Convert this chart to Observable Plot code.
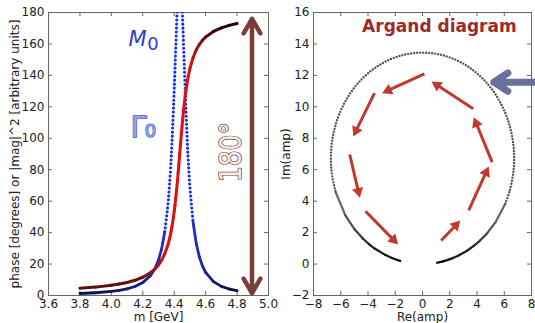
<!DOCTYPE html>
<html><head><meta charset="utf-8">
<script src="https://cdn.jsdelivr.net/npm/d3@7"></script>
<script src="https://cdn.jsdelivr.net/npm/@observablehq/plot@0.6"></script>
<style>
html,body{margin:0;padding:0;background:#fff;}
#wrap{position:relative;width:535px;height:323px;overflow:hidden;display:flex;}
#wrap svg{flex:none;}
</style></head><body><div id="wrap"></div>
<script>
// ---- data ----
const mass = [3.8,3.9,4.0,4.05,4.1,4.15,4.2,4.25,4.28,4.3,4.32,4.34,4.36,4.37,4.38,4.385,4.39,4.395,4.40,4.405,4.41,4.415,4.42,4.425,4.43,4.435,4.44,4.445,4.45,4.455,4.46,4.465,4.47,4.475,4.48,4.485,4.49,4.50,4.52,4.54,4.56,4.58,4.60,4.65,4.70,4.75,4.80];
const phase = [4.55,5.33,6.48,7.26,8.29,9.66,11.60,14.53,17.13,19.45,22.47,26.55,32.27,36.05,40.67,43.37,46.37,49.71,53.43,57.53,62.05,67.00,72.34,78.02,83.95,90.03,96.11,102.07,107.78,113.15,118.13,122.69,126.83,130.58,133.95,136.98,139.70,144.37,151.33,156.16,159.68,162.33,164.40,167.97,170.24,171.81,172.96];
const magSq = [1.28,1.76,2.58,3.25,4.22,5.72,8.20,12.78,17.63,22.52,29.68,40.56,57.88,70.30,86.23,95.74,106.4,118.1,130.9,144.5,158.4,172.0,184.3,194.2,200.8,203.0,200.7,194.1,184.1,171.6,157.8,143.8,130.0,117.1,105.2,94.5,84.9,68.9,46.74,33.15,24.48,18.70,14.69,8.82,5.83,4.12,3.05];
const ampRe = [1.064,1.244,1.508,1.686,1.919,2.225,2.649,3.267,3.786,4.223,4.751,5.378,6.072,6.400,6.648,6.714,6.718,6.634,6.436,6.092,5.569,4.838,3.888,2.731,1.410,-0.007,-1.424,-2.750,-3.911,-4.862,-5.592,-6.114,-6.453,-6.645,-6.720,-6.709,-6.635,-6.369,-5.661,-4.972,-4.381,-3.889,-3.484,-2.742,-2.247,-1.896,-1.636];
const ampIm = [0.085,0.116,0.171,0.215,0.280,0.379,0.544,0.847,1.167,1.492,1.965,2.687,3.834,4.658,5.712,6.343,7.046,7.826,8.675,9.574,10.496,11.397,12.212,12.870,13.300,13.450,13.298,12.862,12.196,11.371,10.461,9.526,8.617,7.759,6.971,6.261,5.627,4.564,3.096,2.196,1.623,1.239,0.973,0.584,0.387,0.273,0.202];

const leftXTicks = [3.6,3.8,4.0,4.2,4.4,4.6,4.8,5.0];
const leftYTicks = [0,20,40,60,80,100,120,140,160,180];
const rightXTicks = [-8,-6,-4,-2,0,2,4,6,8];
const rightYTicks = [-2,0,2,4,6,8,10,12,14,16];

// Argand flow arrows (Re/Im of start and tip)
const arrowX1 = [0.14,-3.52,-5.34,-4.18,1.37,3.39,5.11,3.72];
const arrowY1 = [12.10,10.87,6.97,3.36,1.50,3.41,6.48,9.88];
const arrowX2 = [-2.96,-5.09,-4.60,-1.79,2.78,4.86,3.76,0.66];
const arrowY2 = [10.87,8.11,4.21,1.24,2.77,6.21,9.34,11.61];

// annotations
const spanArrowM = 4.895, spanArrowLow = 1.5, spanArrowMid = 90, spanArrowHigh = 176;
const spanLabel = {x: 4.765, y: 91.2, t: "180°"};
const m0Label = {x: 4.109, y: 159, t: "M"}, m0Sub = {x: 4.228, y: 155.9, t: "0"};
const g0Label = {x: 4.122, y: 100.7, t: "Γ"}, g0Sub = {x: 4.213, y: 100.7, t: "0"};
const pointer = {x1: 10, x2: 5.23, y: 11.57};
const titleR = {x: 1.24, y: 14.75, t: "Argand diagram"};

// ---- helpers ----
function segs(xs, ys, keep, colorFn) {
  const rows = [];
  for (let i = 0; i < mass.length - 1; i++) {
    if (!keep(mass[i]) || !keep(mass[i + 1])) continue;
    const c = colorFn((mass[i] + mass[i + 1]) / 2);
    rows.push({x: xs[i], y: ys[i], z: i, c}, {x: xs[i + 1], y: ys[i + 1], z: i, c});
  }
  return rows;
}
function pts(xs, ys, keep) {
  return mass.map((m, i) => ({m, x: xs[i], y: ys[i]})).filter(d => keep(d.m));
}
const tail = m => m <= 4.34 || m >= 4.52;
const core = m => m >= 4.34 && m <= 4.52;
const tailA = m => m <= 4.36 || m >= 4.50;
const coreA = m => m >= 4.36 && m <= 4.50;

const redColor = d3.scaleLinear().domain([3.8,4.2,4.3,4.36,4.5,4.56,4.65,4.8])
  .range(["#560f0f","#6a1010","#b01212","#e01010","#e01010","#901010","#3a0606","#200202"]);
const blueColor = d3.scaleLinear().domain([3.8,4.2,4.34,4.52,4.65,4.8])
  .range(["#0b0b4c","#14217e","#1b30d0","#1b30d0","#111d72","#08084a"]);
const grayColor = d3.scaleLinear().domain([3.8,4.28,4.36,4.5,4.58,4.8])
  .range(["#000000","#222222","#707070","#707070","#222222","#000000"]);

const H = 323, MT = 12, MB = 28, innerH = H - MT - MB;
const baseStyle = {fontFamily: "DejaVu Sans, sans-serif", fontSize: "12px", color: "#222", background: "transparent", overflow: "visible"};
const frameColor = "#666";

// ---- left panel ----
const WL = 280, MLL = 48, MRL = 12, innerWL = WL - MLL - MRL;
const left = Plot.plot({
  width: WL, height: H, marginLeft: MLL, marginRight: MRL, marginTop: MT, marginBottom: MB,
  style: baseStyle,
  x: {domain: [3.6, 5.0], ticks: leftXTicks, tickSize: 0, tickPadding: 4, tickFormat: d => d.toFixed(1), label: null},
  y: {domain: [0, 180], ticks: leftYTicks, tickSize: 0, tickPadding: 4, label: null},
  color: {type: "identity"},
  marks: [
    Plot.frame({stroke: frameColor}),
    Plot.tickX(leftXTicks, {x: d => d, insetTop: innerH - 4, stroke: frameColor}),
    Plot.tickX(leftXTicks, {x: d => d, insetBottom: innerH - 4, stroke: frameColor}),
    Plot.tickY(leftYTicks, {y: d => d, insetRight: innerWL - 4, stroke: frameColor}),
    Plot.tickY(leftYTicks, {y: d => d, insetLeft: innerWL - 4, stroke: frameColor}),
    Plot.line(segs(mass, magSq, tail, blueColor), {x: "x", y: "y", z: "z", stroke: "c", strokeWidth: 2.8, strokeLinecap: "round"}),
    Plot.line(pts(mass, magSq, core), {x: "x", y: "y", stroke: "#1530dc", strokeWidth: 3.1, strokeDasharray: "0 4", strokeLinecap: "round", curve: "catmull-rom", clip: true}),
    Plot.line(segs(mass, phase, () => true, redColor), {x: "x", y: "y", z: "z", stroke: "c", strokeWidth: 3, strokeLinecap: "round"}),
    Plot.arrow([0], {x1: spanArrowM, x2: spanArrowM, y1: spanArrowMid, y2: spanArrowHigh, stroke: "#7a3e38", strokeWidth: 4.5, headLength: 5.6}),
    Plot.arrow([0], {x1: spanArrowM, x2: spanArrowM, y1: spanArrowMid, y2: spanArrowLow, stroke: "#7a3e38", strokeWidth: 4.5, headLength: 5.6}),
    Plot.text([spanLabel], {x: "x", y: "y", text: "t", rotate: -90, textAnchor: "middle", lineAnchor: "middle", fontSize: 31, fill: "#f6eeed", stroke: "#7a3e38", strokeWidth: 1.6}),
    Plot.text([m0Label], {x: "x", y: "y", text: "t", textAnchor: "start", lineAnchor: "bottom", fontSize: 21, fontStyle: "italic", fill: "#2e40cc"}),
    Plot.text([m0Sub], {x: "x", y: "y", text: "t", textAnchor: "start", lineAnchor: "bottom", fontSize: 18, fill: "#2e40cc"}),
    Plot.text([g0Label], {x: "x", y: "y", text: "t", textAnchor: "start", lineAnchor: "bottom", fontSize: 29, fill: "#8ea2f0", stroke: "#3a58d8", strokeWidth: 1.3}),
    Plot.text([g0Sub], {x: "x", y: "y", text: "t", textAnchor: "start", lineAnchor: "bottom", fontSize: 18, fill: "#8ea2f0", stroke: "#3a58d8", strokeWidth: 1.2}),
    Plot.text(["phase [degrees] or |mag|^2 [arbitrary units]"], {text: d => d, frameAnchor: "left", dx: -30, rotate: -90, textAnchor: "middle", lineAnchor: "bottom", fontSize: 12, fill: "#222"}),
    Plot.text(["m [GeV]"], {text: d => d, frameAnchor: "bottom", dy: 25, textAnchor: "middle", lineAnchor: "bottom", fontSize: 12, fill: "#222"})
  ]
});
d3.select(left).selectAll("text").filter(function() { return this.textContent === "180°"; })
  .attr("textLength", 60).attr("lengthAdjust", "spacingAndGlyphs");

// ---- right panel ----
const WR = 255, MLR = 33, MRR = 4, innerWR = WR - MLR - MRR;
const kx = innerWR / 16, ky = innerH / 18;
const headR = 4.2;
const tipDist = 2 * Math.sqrt(Math.PI * headR * headR / (Math.sqrt(3) * 3));
const flow = arrowX1.map((x1, i) => {
  const x2 = arrowX2[i], y1 = arrowY1[i], y2 = arrowY2[i];
  const dxp = (x2 - x1) * kx, dyp = -(y2 - y1) * ky;
  const L = Math.hypot(dxp, dyp), ux = dxp / L, uy = dyp / L;
  return {x1, y1, hx: x2 - tipDist * ux / kx, hy: y2 + tipDist * uy / ky, rot: Math.atan2(dyp, dxp) * 180 / Math.PI + 90};
});
const arrowRed = "#bf3a2c";
const right = Plot.plot({
  width: WR, height: H, marginLeft: MLR, marginRight: MRR, marginTop: MT, marginBottom: MB,
  style: baseStyle,
  x: {domain: [-8, 8], ticks: rightXTicks, tickSize: 0, tickPadding: 4, label: null},
  y: {domain: [-2, 16], ticks: rightYTicks, tickSize: 0, tickPadding: 4, label: null},
  color: {type: "identity"},
  marks: [
    Plot.frame({stroke: frameColor}),
    Plot.tickX(rightXTicks, {x: d => d, insetTop: innerH - 4, stroke: frameColor}),
    Plot.tickX(rightXTicks, {x: d => d, insetBottom: innerH - 4, stroke: frameColor}),
    Plot.tickY(rightYTicks, {y: d => d, insetRight: innerWR - 4, stroke: frameColor}),
    Plot.tickY(rightYTicks, {y: d => d, insetLeft: innerWR - 4, stroke: frameColor}),
    Plot.line(segs(ampRe, ampIm, tailA, grayColor), {x: "x", y: "y", z: "z", stroke: "c", strokeWidth: 2.2, strokeLinecap: "round"}),
    Plot.line(pts(ampRe, ampIm, coreA), {x: "x", y: "y", stroke: "#555", strokeWidth: 2.4, strokeDasharray: "0 3", strokeLinecap: "round", curve: "catmull-rom"}),
    Plot.link(flow, {x1: "x1", y1: "y1", x2: "hx", y2: "hy", stroke: arrowRed, strokeWidth: 3}),
    Plot.dot(flow, {x: "hx", y: "hy", symbol: "triangle", r: headR, fill: arrowRed, stroke: null, rotate: "rot"}),
    Plot.arrow([0], {x1: pointer.x1, x2: pointer.x2, y1: pointer.y, y2: pointer.y, stroke: "#6b6f9e", strokeWidth: 7, headLength: 3.6, headAngle: 66}),
    Plot.text([titleR], {x: "x", y: "y", text: "t", textAnchor: "middle", lineAnchor: "bottom", fontSize: 17, fontWeight: "bold", fill: "#9a2b2b"}),
    Plot.text(["Im(amp)"], {text: d => d, frameAnchor: "left", dx: -24, rotate: -90, textAnchor: "middle", lineAnchor: "bottom", fontSize: 12, fill: "#222"}),
    Plot.text(["Re(amp)"], {text: d => d, frameAnchor: "bottom", dy: 25, textAnchor: "middle", lineAnchor: "bottom", fontSize: 12, fill: "#222"})
  ]
});

document.getElementById("wrap").append(left, right);
</script>
</body></html>
